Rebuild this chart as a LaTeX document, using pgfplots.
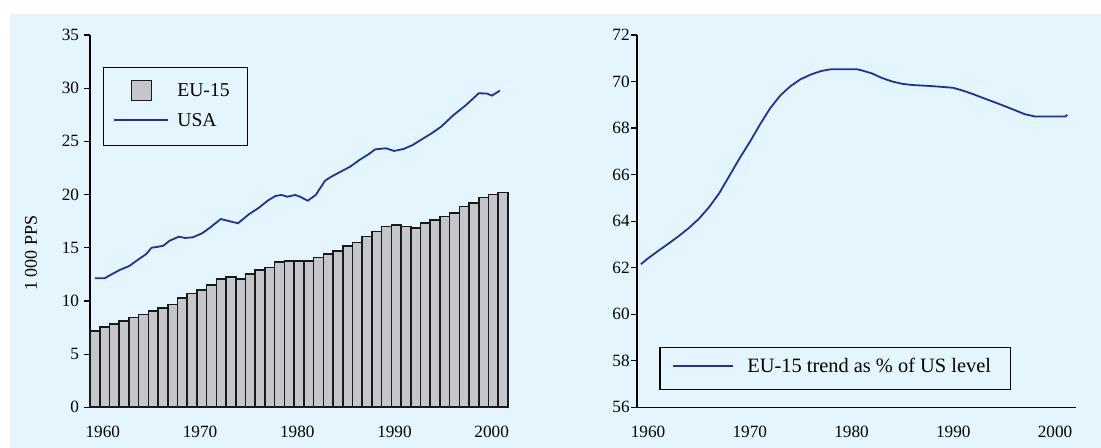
\documentclass[border=0pt]{standalone}
\usepackage{fontspec}
\setmainfont{Liberation Serif}
\usepackage{pgfplots}
\pgfplotsset{compat=1.18}
\definecolor{bgblue}{RGB}{228,245,254}
\definecolor{barfill}{RGB}{197,198,203}
\definecolor{usblue}{RGB}{30,50,155}

\pgfplotsset{
  common/.style={
    scale only axis,
    axis lines*=left,
    axis line style={black, line width=0.65pt},
    tick align=outside,
    major tick length=3pt,
    xtick style={draw=none},
    ytick style={black, line width=0.6pt},
    /pgf/number format/assume math mode=true,
    tick label style={font=\fontsize{8.6}{9.5}\selectfont},
    xticklabel style={inner sep=0pt, anchor=north, yshift=-6.3pt},
    legend cell align=left,
    clip=false,
  }
}

\begin{document}
\begin{tikzpicture}[x=1pt,y=1pt]
\fill[bgblue] (5,0) rectangle (550.5,217);

% ---------------- left panel ----------------
\begin{axis}[common,
  at={(45pt,20.35pt)}, anchor=south west,
  width=209pt, height=186.15pt,
  xmin=-0.5, xmax=42.5, ymin=0, ymax=35,
  ytick={0,5,...,35},
  xtick={0.82,10.82,20.82,30.82,40.82},
  xticklabels={1960,1970,1980,1990,2000},
  yticklabel style={inner sep=0pt, xshift=-2.3pt},
  ylabel={1 000 PPS},
  every axis y label/.style={at={(axis description cs:-0.141,0.414)}, rotate=90, anchor=center, font=\fontsize{9}{10}\selectfont},
  legend style={
    at={(rel axis cs:0.031,0.915)}, anchor=north west,
    draw=black, line width=0.6pt, fill=none,
    font=\fontsize{9.8}{11}\selectfont,
    inner xsep=5pt, inner ysep=6.2pt,
    row sep=5pt,
    nodes={inner sep=0pt, text height=7pt, text depth=3pt},
    /tikz/every odd column/.append style={column sep=4pt},
  },
]
\addplot[ybar, bar width=4.86pt, bar shift=0pt, fill=barfill, draw=black!90, line width=0.8pt,
  legend image code/.code={\path (0pt,0pt) (27pt,0pt);\draw[fill=barfill, draw=black!90, line width=0.7pt] (8.5pt,-3.7pt) rectangle (18.5pt,6.3pt);}]
coordinates {
(0,7.2) (1,7.55) (2,7.82) (3,8.12) (4,8.44) (5,8.74) (6,9.05) (7,9.35) (8,9.65) (9,10.25)
(10,10.7) (11,11.02) (12,11.47) (13,12.08) (14,12.24) (15,12.08) (16,12.55) (17,12.88) (18,13.16) (19,13.65)
(20,13.78) (21,13.78) (22,13.78) (23,14.08) (24,14.41) (25,14.69) (26,15.16) (27,15.48) (28,16.07) (29,16.51)
(30,16.99) (31,17.14) (32,16.99) (33,16.83) (34,17.3) (35,17.61) (36,17.92) (37,18.24) (38,18.86) (39,19.18)
(40,19.74) (41,20.02) (42,20.21)
};
\addlegendentry{\makebox[30pt][l]{EU-15}}
\addplot[usblue, line width=0.9pt, no marks, sharp plot,
  legend image code/.code={\draw[usblue, line width=0.9pt] (0pt,1.3pt) -- (27pt,1.3pt);}]
coordinates {
(0,12.13) (1.0,12.13) (1.6,12.44) (2.56,12.91) (3.53,13.28) (4.49,13.91) (5.29,14.41) (5.83,15.0)
(6.56,15.1) (7.05,15.19) (7.69,15.66) (8.64,16.04) (9.28,15.92) (10.08,15.98) (11.04,16.36)
(11.84,16.89) (12.96,17.7) (13.77,17.51) (14.72,17.3) (15.84,18.14) (16.8,18.71) (17.77,19.42)
(18.56,19.86) (19.2,19.96) (19.8,19.8) (20.62,19.96) (21.1,19.8) (21.9,19.42) (22.72,19.96)
(23.68,21.3) (24.32,21.68) (25.29,22.15) (26.26,22.62) (27.22,23.25) (28.19,23.81) (28.84,24.25)
(29.97,24.35) (30.77,24.1) (31.74,24.28) (32.71,24.66) (33.52,25.13) (34.65,25.76) (35.62,26.38)
(36.9,27.48) (38.19,28.42) (39.49,29.52) (40.33,29.5) (40.84,29.3) (41.67,29.77)
};
\addlegendentry{\makebox[30pt][l]{USA}}
\end{axis}

% ---------------- right panel ----------------
\begin{axis}[common,
  at={(318.5pt,20.35pt)}, anchor=south west,
  width=219.5pt, height=186.15pt,
  xmin=1958.92, xmax=2002.06, ymin=56, ymax=72,
  ytick={56,58,...,72},
  xtick={1960,1970,1980,1990,2000},
  xticklabels={1960,1970,1980,1990,2000},
  yticklabel style={inner sep=0pt, xshift=-0.5pt},
  legend style={
    at={(rel axis cs:0.0508,0.1628)}, anchor=north west,
    draw=black, line width=0.6pt, fill=none,
    font=\fontsize{10.2}{12}\selectfont,
    inner xsep=6.2pt, inner ysep=5.4pt,
    nodes={inner sep=0pt, text height=7.3pt, text depth=3pt},
    /tikz/every odd column/.append style={column sep=6.65pt},
  },
]
\addplot[usblue, line width=0.9pt, no marks, sharp plot,
  legend image code/.code={\draw[usblue, line width=0.9pt] (0pt,1.2pt) -- (30pt,1.2pt);}]
coordinates {
(1959.3,62.15) (1960,62.4) (1961,62.72) (1962,63.03) (1963,63.35) (1964,63.7) (1965,64.1)
(1966,64.6) (1967,65.2) (1968,65.95) (1969,66.7) (1970,67.4) (1971,68.15) (1972,68.85)
(1973,69.4) (1974,69.8) (1975,70.1) (1976,70.3) (1977,70.45) (1978,70.53) (1980.5,70.53)
(1981,70.48) (1982,70.35) (1983,70.15) (1984,70.0) (1985,69.9) (1986,69.85) (1988,69.8)
(1990,69.73) (1991,69.6) (1992,69.45) (1993,69.28) (1994,69.12) (1995,68.95) (1996,68.78)
(1997,68.6) (1998,68.5) (2001.0,68.5) (2001.2,68.57)
};
\addlegendentry{\makebox[125.4pt][l]{EU-15 trend as \% of US level}}
\end{axis}

\pgfresetboundingbox
\useasboundingbox (0,0) rectangle (550.5,224);
\end{tikzpicture}
\end{document}
